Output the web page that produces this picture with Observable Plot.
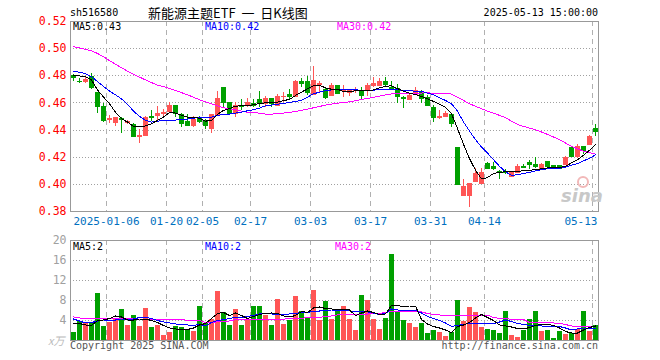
<!DOCTYPE html>
<html><head><meta charset="utf-8">
<script src="https://cdn.jsdelivr.net/npm/d3@7"></script>
<script src="https://cdn.jsdelivr.net/npm/@observablehq/plot@0.6"></script>
<style>
html,body{margin:0;padding:0;background:#fff;}
#wrap{position:relative;width:660px;height:360px;overflow:hidden;font-family:"DejaVu Sans Mono",monospace;}
.t{position:absolute;white-space:nowrap;line-height:1;}
#main,#vol{position:absolute;left:0;}
#main{top:0;} #vol{top:230px;}
</style></head><body><div id="wrap">
<div id="main"></div><div id="vol"></div>
<span class="t" style="left:70px;top:8px;font-size:10px;color:#000">sh516580</span>
<span class="t" style="left:148px;top:6px;font-size:13px;color:#000;font-family:'Noto Sans CJK SC'">新能源主题ETF&nbsp;&nbsp;一&nbsp;&nbsp;日K线图</span>
<span class="t" style="right:62px;top:8px;font-size:10px;color:#000">2025-05-13 15:00:00</span>
<span class="t" id="m5" style="left:73px;top:22px;font-size:10px;color:#000"></span>
<span class="t" id="m10" style="left:205px;top:22px;font-size:10px;color:#0000ff"></span>
<span class="t" id="m30" style="left:337px;top:22px;font-size:10px;color:#ff00ff"></span>
<span class="t" id="v5" style="left:73px;top:242px;font-size:10px;color:#000"></span>
<span class="t" id="v10" style="left:205px;top:242px;font-size:10px;color:#0000ff"></span>
<span class="t" id="v30" style="left:335px;top:242px;font-size:10px;color:#ff00ff"></span>
<span class="t" style="left:48px;top:335px;font-size:11px;color:#bbb;font-style:italic;font-family:'Noto Sans CJK SC'">x万</span>
<span class="t" style="left:70px;top:341px;font-size:10px;color:#555">Copyright 2025 SINA.COM</span>
<span class="t" style="right:62px;top:341px;font-size:10px;color:#555">http://finance.sina.com.cn</span>
<span class="t" style="left:577px;top:176px;width:8px;height:8px;border:2px solid #f2b8b8;border-radius:50%"></span>
<span class="t" style="left:561px;top:187px;font-size:18px;color:#c8c8c8;font-weight:bold;font-style:italic;font-family:'DejaVu Sans'">sina</span>
</div>
<script>
const dates = ["2024-12-26","2024-12-27","2024-12-30","2024-12-31","2025-01-02","2025-01-03",
"2025-01-06","2025-01-07","2025-01-08","2025-01-09","2025-01-10","2025-01-13","2025-01-14","2025-01-15","2025-01-16","2025-01-17",
"2025-01-20","2025-01-21","2025-01-22","2025-01-23","2025-01-24","2025-01-27",
"2025-02-05","2025-02-06","2025-02-07","2025-02-10","2025-02-11","2025-02-12","2025-02-13","2025-02-14",
"2025-02-17","2025-02-18","2025-02-19","2025-02-20","2025-02-21","2025-02-24","2025-02-25","2025-02-26","2025-02-27","2025-02-28",
"2025-03-03","2025-03-04","2025-03-05","2025-03-06","2025-03-07","2025-03-10","2025-03-11","2025-03-12","2025-03-13","2025-03-14",
"2025-03-17","2025-03-18","2025-03-19","2025-03-20","2025-03-21","2025-03-24","2025-03-25","2025-03-26","2025-03-27","2025-03-28",
"2025-03-31","2025-04-01","2025-04-02","2025-04-03","2025-04-07","2025-04-08","2025-04-09","2025-04-10","2025-04-11",
"2025-04-14","2025-04-15","2025-04-16","2025-04-17","2025-04-18","2025-04-21","2025-04-22","2025-04-23","2025-04-24","2025-04-25",
"2025-04-28","2025-04-29","2025-04-30","2025-05-06","2025-05-07","2025-05-08","2025-05-09","2025-05-12","2025-05-13"];

const open = [0.480,0.476,0.476,0.4794,0.468,0.4574,0.448,0.4457,0.4486,0.4455,0.4442,0.4349,0.4361,0.4501,0.4506,
0.4525,0.454,0.4579,0.4515,0.4464,0.4437,0.4491,0.4466,0.4408,0.4515,0.4716,0.4603,0.4525,0.4584,0.4579,
0.4594,0.4623,0.4599,0.463,0.4584,0.4645,0.4662,0.4647,0.4758,0.4758,0.4662,0.4735,0.4696,0.4657,0.4728,
0.4693,0.4679,0.4694,0.4691,0.4691,0.4728,0.4731,0.4755,0.4716,0.4704,0.4638,0.4623,0.4662,0.4679,0.4643,
0.4569,0.4494,0.4501,0.4515,0.4275,0.392,0.392,0.4021,0.4006,0.4153,0.4134,0.4097,0.409,0.4055,0.4084,
0.4133,0.4163,0.4148,0.4119,0.4168,0.4136,0.4138,0.4148,0.427,0.4202,0.428,0.4295,0.4408];
const high = [0.481,0.478,0.4785,0.4814,0.468,0.4599,0.4508,0.4491,0.449,0.447,0.4447,0.4403,0.4501,0.4545,0.4574,
0.455,0.4603,0.458,0.452,0.4515,0.4501,0.4501,0.4481,0.4515,0.4687,0.4716,0.4603,0.4603,0.4623,0.4633,
0.4623,0.4687,0.4647,0.463,0.4662,0.4679,0.4699,0.4765,0.478,0.4794,0.4868,0.476,0.4716,0.474,0.4728,
0.4728,0.4701,0.4711,0.4711,0.474,0.4785,0.478,0.4785,0.476,0.4736,0.4647,0.4667,0.4711,0.4691,0.4655,
0.4579,0.4545,0.454,0.4525,0.4275,0.4036,0.4006,0.4116,0.4116,0.4163,0.4163,0.4099,0.4109,0.4094,0.4143,
0.4143,0.4173,0.4197,0.4153,0.4168,0.4138,0.4138,0.4202,0.428,0.4295,0.428,0.4359,0.4442];
const low = [0.476,0.474,0.474,0.4696,0.452,0.4459,0.4452,0.4427,0.4378,0.444,0.4344,0.430,0.4354,0.4466,0.4471,
0.4499,0.4532,0.449,0.4422,0.4427,0.4422,0.4452,0.4403,0.4373,0.4508,0.4569,0.452,0.4491,0.4545,0.4569,
0.4569,0.4569,0.4569,0.4564,0.4574,0.4606,0.4618,0.4642,0.4711,0.4655,0.4655,0.4667,0.4623,0.4652,0.4662,
0.4643,0.4647,0.4672,0.4623,0.4647,0.4716,0.4721,0.4711,0.4701,0.4599,0.4559,0.4618,0.4657,0.4594,0.4574,
0.4459,0.4476,0.4491,0.4422,0.400,0.3913,0.3827,0.4016,0.4001,0.4109,0.4099,0.4036,0.407,0.405,0.408,
0.4114,0.4109,0.4114,0.4109,0.4124,0.4114,0.4109,0.4143,0.4197,0.4192,0.4217,0.429,0.4354];
const close = [0.479,0.4755,0.477,0.4716,0.4577,0.4471,0.4485,0.4491,0.4476,0.4465,0.4354,0.4361,0.4491,0.4491,0.4525,
0.453,0.4579,0.452,0.4447,0.4437,0.4481,0.4461,0.4437,0.4515,0.4633,0.4603,0.4525,0.4579,0.4574,0.4603,
0.4584,0.4594,0.4633,0.4594,0.4647,0.465,0.4647,0.476,0.474,0.4679,0.4765,0.4745,0.4638,0.4731,0.4667,
0.4699,0.4701,0.4696,0.4652,0.4726,0.4745,0.4755,0.4736,0.4706,0.4647,0.463,0.4655,0.4691,0.4635,0.4581,
0.4496,0.4498,0.452,0.4447,0.4001,0.3982,0.4006,0.408,0.4089,0.4116,0.4119,0.4092,0.4084,0.4084,0.4133,
0.4124,0.4143,0.4133,0.4148,0.4133,0.4128,0.4119,0.4197,0.4202,0.428,0.4251,0.4354,0.4388];

const ma5 = [0.4799,0.4799,0.4794,0.477,0.4696,0.4643,0.4594,0.4532,0.4483,0.4459,0.4427,0.4427,0.443,0.4447,0.4471,
0.4496,0.453,0.4525,0.451,0.4496,0.4491,0.4488,0.4466,0.4471,0.4515,0.4545,0.4559,0.4576,0.4579,0.4579,
0.4586,0.4596,0.4601,0.4603,0.4606,0.4618,0.4625,0.4655,0.4679,0.4704,0.4728,0.4731,0.4711,0.4701,0.4701,
0.4684,0.4684,0.4689,0.4689,0.4689,0.4696,0.4711,0.4723,0.4726,0.4706,0.4687,0.4672,0.4662,0.4647,0.463,
0.4611,0.4589,0.4569,0.452,0.4412,0.4295,0.419,0.4104,0.404,0.405,0.408,0.4089,0.4092,0.4094,0.4094,
0.4102,0.4104,0.4109,0.4114,0.4121,0.4124,0.4124,0.4133,0.4158,0.4182,0.4214,0.4251,0.4295];
const ma10 = [0.4834,0.4826,0.4816,0.4794,0.4758,0.4721,0.4687,0.466,0.463,0.4589,0.454,0.4501,0.4471,0.4459,0.4466,
0.4469,0.4474,0.4474,0.4476,0.4481,0.4488,0.4491,0.4491,0.4496,0.4508,0.4515,0.4518,0.4525,0.4532,0.4542,
0.455,0.4562,0.4579,0.4584,0.4591,0.4596,0.4603,0.4611,0.4618,0.4643,0.4667,0.4679,0.4691,0.4696,0.4699,
0.4701,0.4699,0.4696,0.4694,0.4691,0.4694,0.4699,0.4701,0.4701,0.4699,0.4691,0.4689,0.4687,0.4687,0.4672,
0.466,0.4638,0.4618,0.4594,0.454,0.4459,0.4393,0.4329,0.4275,0.4231,0.4182,0.4133,0.4092,0.4067,0.407,
0.408,0.4089,0.4099,0.4109,0.4114,0.4116,0.4119,0.4126,0.4141,0.4153,0.4173,0.4192,0.4217];
const ma30 = [0.5015,0.5005,0.4995,0.4983,0.4965,0.494,0.4912,0.4885,0.486,0.4834,0.4812,0.479,0.477,0.475,0.4731,
0.4721,0.4706,0.4692,0.4676,0.466,0.4642,0.4623,0.4608,0.4594,0.4579,0.4564,0.4557,0.455,0.454,0.453,
0.453,0.4524,0.4518,0.4518,0.452,0.4525,0.453,0.4537,0.4545,0.4555,0.4564,0.4574,0.4584,0.4592,0.4599,
0.4601,0.4608,0.4616,0.4625,0.4633,0.4642,0.465,0.4659,0.4667,0.4669,0.467,0.4671,0.4672,0.4673,0.4674,
0.4672,0.4671,0.467,0.4665,0.4643,0.4618,0.4594,0.4575,0.4557,0.454,0.4525,0.4508,0.4491,0.4466,0.4442,
0.4427,0.4415,0.4403,0.4386,0.4368,0.4349,0.4329,0.4305,0.428,0.4262,0.4244,0.4233,0.4222];

const volume = [1.6,3.8,3.4,3.4,9.5,2.9,3.7,4.4,6.3,3.1,5.0,2.9,6.5,2.7,3.1,1.0,1.6,2.8,2.7,2.3,1.8,6.9,3.4,4.3,9.9,5.6,3.0,6.3,3.1,4.3,
6.9,6.9,5.0,3.1,8.3,3.3,4.1,8.9,5.9,4.7,10.1,4.1,7.9,4.3,6.0,6.9,4.3,2.1,9.1,8.1,4.3,2.3,4.5,17.2,5.9,4.1,3.5,2.7,3.5,1.5,
2.1,1.7,0.9,1.7,8.1,3.9,6.7,5.7,2.7,2.3,2.1,1.5,5.9,1.1,0.7,2.1,4.3,5.9,1.9,2.1,0.5,1.9,1.3,1.5,2.3,5.9,1.9,3.1];
const volMa5 = [3.4,3.4,3.1,3.0,4.0,4.1,4.4,4.9,4.7,4.1,4.1,4.3,4.3,4.0,3.6,3.0,2.5,2.3,2.3,2.2,2.5,3.1,3.4,4.4,5.4,5.6,5.0,5.5,5.0,4.4,
4.8,5.2,5.4,5.5,5.4,4.9,4.7,5.0,5.8,5.6,6.5,6.7,6.4,6.3,6.3,6.3,6.1,5.0,5.5,5.9,5.6,5.2,5.3,7.0,6.95,6.8,6.9,6.9,4.2,3.3,
2.8,2.5,2.1,1.6,2.8,3.1,3.6,4.5,5.2,4.6,4.0,3.1,2.9,2.7,2.4,2.3,2.6,3.0,3.2,3.2,3.0,2.5,1.8,1.5,1.5,2.1,2.6,2.9];
const volMa10 = [4.3,3.9,3.5,3.6,3.9,4.1,4.1,4.1,4.3,4.3,4.3,4.6,4.6,4.4,4.0,3.7,3.5,3.3,3.2,3.1,3.0,3.2,2.9,3.6,4.0,4.15,4.4,4.6,4.6,4.8,
5.0,5.3,5.4,5.3,5.2,5.2,5.3,5.4,5.6,5.6,5.9,5.9,6.0,6.1,6.1,6.0,5.9,5.85,5.8,5.7,5.5,5.2,5.4,6.3,6.1,6.0,6.0,6.0,5.5,4.8,
4.4,4.0,3.5,2.8,3.0,3.2,3.4,3.4,3.4,3.4,3.4,3.7,4.1,3.8,3.4,3.2,3.0,3.0,2.9,2.9,2.8,2.8,2.5,2.1,2.3,2.5,2.5,2.3];
const volMa30 = [4.7,4.5,4.4,4.4,4.4,4.4,4.4,4.4,4.4,4.4,4.3,4.3,4.3,4.3,4.3,4.2,4.2,4.2,4.2,4.0,4.0,4.0,3.6,3.5,3.8,3.85,3.9,4.2,4.2,4.2,
4.2,4.2,4.2,4.25,4.25,4.25,4.4,4.4,4.4,4.6,4.6,4.6,4.8,4.9,5.1,5.3,5.3,5.3,5.3,5.3,5.4,5.4,5.6,5.9,5.9,5.9,5.9,5.9,5.7,5.4,
5.2,5.1,5.1,5.1,5.1,5.1,5.1,5.1,5.1,5.1,4.6,4.4,4.4,4.2,4.2,4.2,3.6,3.6,3.6,3.6,3.5,3.4,3.2,2.9,2.9,2.9,2.9,2.9];

const priceTicks = [0.38,0.40,0.42,0.44,0.46,0.48,0.50,0.52];
const volTicks = [4,8,12,16,20];
const tickDates = ["2025-01-06","2025-01-20","2025-02-05","2025-02-17","2025-03-03","2025-03-17","2025-03-31","2025-04-14","2025-05-13"];
const tickLabels = ["2025-01-06","01-20","02-05","02-17","03-03","03-17","03-31","04-14","05-13"];

const UP = "#ff5555", DOWN = "#00a000";
const rows = dates.map((d,i)=>({i, o:open[i], h:high[i], l:low[i], c:close[i], v:volume[i], up: close[i] >= open[i]}));
const col = d => d.up ? UP : DOWN;
const n = dates.length;
const tickIdx = tickDates.map(d => dates.indexOf(d));
const ticks = tickIdx.map((k,j)=>({k, label: tickLabels[j]}));
const FONT = "DejaVu Sans Mono";
const xOpt = {type:"linear", domain:[-0.5, n-0.5], axis:null};
const grid = {stroke:"#a0a0a0", strokeDasharray:"1,2"};
const vgrid = {stroke:"#b0b0b0", strokeDasharray:"5,4"};
const crisp = {shapeRendering:"crispEdges"};
const line = (arr, color) => Plot.lineY(arr, {x:(d,i)=>i, y:d=>d, stroke:color, strokeWidth:1, ...crisp});

const main = Plot.plot({
  width:660, height:232, marginLeft:70, marginRight:62, marginTop:21, marginBottom:21,
  x: xOpt, y:{domain:[0.38,0.52], axis:null},
  style:{background:"transparent", overflow:"visible"},
  marks:[
    Plot.ruleY(priceTicks.slice(1,-1), {...grid, ...crisp}),
    Plot.ruleX(tickIdx, {x:d=>d-0.5, ...vgrid, ...crisp}),
    Plot.ruleX(rows, {x:"i", y1:"l", y2:"h", stroke:col, ...crisp}),
    Plot.rectY(rows, {x1:d=>d.i-0.5, x2:d=>d.i+0.5, y1:"o", y2:"c", fill:col, insetLeft:0.5, insetRight:0.5, ...crisp}),
    Plot.ruleY(rows, {y:"o", x1:d=>d.i-0.5, x2:d=>d.i+0.5, stroke:col, insetLeft:0.5, insetRight:0.5, ...crisp}),
    Plot.ruleY(rows, {y:"c", x1:d=>d.i-0.5, x2:d=>d.i+0.5, stroke:col, insetLeft:0.5, insetRight:0.5, ...crisp}),
    line(ma30, "#ff00ff"),
    line(ma10, "#0000ff"),
    line(ma5, "#000000"),
    Plot.frame({stroke:"#999", ...crisp}),
    Plot.text(priceTicks, {x:-0.5, y:d=>d, text:d=>d.toFixed(2), textAnchor:"end", dx:-4, fill:"#ff0000", fontSize:11.5, fontFamily:FONT}),
    Plot.text(ticks.slice(0,-1), {x:d=>d.k-0.5, y:0.38, dy:10, text:"label", fill:"#0070c0", fontSize:11, fontFamily:FONT}),
    Plot.text(ticks.slice(-1), {x:n-0.5, y:0.38, dy:10, dx:-1, text:"label", textAnchor:"end", fill:"#0070c0", fontSize:11, fontFamily:FONT})
  ]
});
document.getElementById("main").appendChild(main);

const vol = Plot.plot({
  width:660, height:130, marginLeft:70, marginRight:62, marginTop:10, marginBottom:20,
  x: xOpt, y:{domain:[0,20], axis:null},
  style:{background:"transparent", overflow:"visible"},
  marks:[
    Plot.ruleY(volTicks.slice(0,-1), {...grid, ...crisp}),
    Plot.ruleX(tickIdx, {x:d=>d-0.5, ...vgrid, ...crisp}),
    Plot.rectY(rows, {x1:d=>d.i-0.5, x2:d=>d.i+0.5, y1:0, y2:"v", fill:col, insetLeft:0.5, insetRight:0.5, ...crisp}),
    line(volMa30, "#ff00ff"),
    line(volMa10, "#0000ff"),
    line(volMa5, "#000000"),
    Plot.frame({stroke:"#999", ...crisp}),
    Plot.text(volTicks, {x:-0.5, y:d=>d, text:d=>String(d), textAnchor:"end", dx:-4, fill:"#a0a0a0", fontSize:11.5, fontFamily:FONT})
  ]
});
document.getElementById("vol").appendChild(vol);

document.getElementById("m5").textContent = "MA5:" + ma5[n-1].toFixed(2);
document.getElementById("m10").textContent = "MA10:" + ma10[n-1].toFixed(2);
document.getElementById("m30").textContent = "MA30:" + ma30[n-1].toFixed(2);
document.getElementById("v5").textContent = "MA5:" + Math.floor(volMa5[n-1]);
document.getElementById("v10").textContent = "MA10:" + Math.floor(volMa10[n-1]);
document.getElementById("v30").textContent = "MA30:" + Math.floor(volMa30[n-1]);
</script>
</body></html>
